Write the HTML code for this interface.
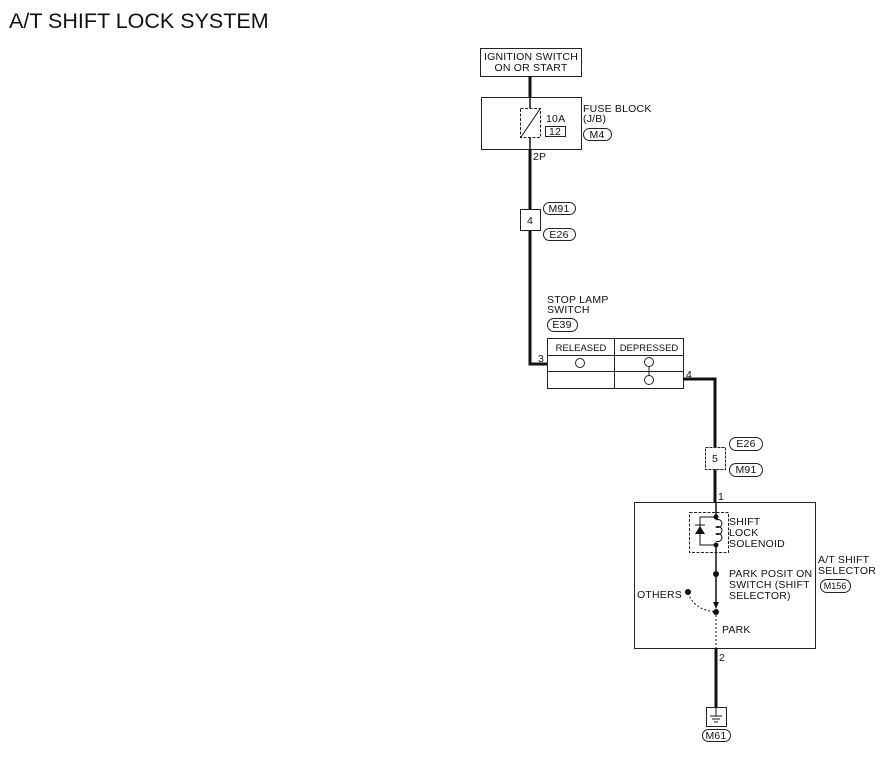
<!DOCTYPE html>
<html><head><style>
body{margin:0;background:#fff;}
svg{display:block;}
text{font-family:"Liberation Sans",sans-serif;fill:#111;}
</style></head><body>
<svg width="890" height="757" viewBox="0 0 890 757" xmlns="http://www.w3.org/2000/svg">
<text x="9" y="28" font-size="21.5">A/T SHIFT LOCK SYSTEM</text>
<g font-size="10.5" letter-spacing="0.2">
<rect x="480.5" y="48.5" width="101" height="28" fill="none" stroke="#222"/>
<text x="531" y="60" text-anchor="middle">IGNITION SWITCH</text>
<text x="531" y="71" text-anchor="middle">ON OR START</text>
<line x1="530" y1="76" x2="530" y2="97" stroke="#111" stroke-width="3"/>
<rect x="481.5" y="97.5" width="100" height="52" fill="none" stroke="#222"/>
<line x1="530" y1="97" x2="530" y2="108" stroke="#111" stroke-width="1.5"/>
<rect x="520.5" y="108.5" width="20" height="29" fill="none" stroke="#222" stroke-dasharray="3,1.5"/>
<line x1="521" y1="137" x2="540" y2="109" stroke="#111"/>
<line x1="530" y1="138" x2="530" y2="150" stroke="#111" stroke-width="1.5"/>
<text x="546" y="122">10A</text>
<rect x="545.5" y="126.5" width="20" height="10" fill="none" stroke="#222"/>
<text x="555" y="135" text-anchor="middle">12</text>
<text x="583" y="112">FUSE BLOCK</text>
<text x="583" y="122">(J/B)</text>
<rect x="583.5" y="128.5" width="28" height="12" rx="6" fill="none" stroke="#222"/>
<text x="597" y="138" text-anchor="middle">M4</text>
<text x="533" y="160">2P</text>
<polyline points="530,150 530,364 547,364" fill="none" stroke="#111" stroke-width="3"/>
<rect x="520.5" y="209.5" width="20" height="21" fill="#fff" stroke="#222"/>
<text x="530" y="224" text-anchor="middle">4</text>
<rect x="543.5" y="202.5" width="32" height="12" rx="6" fill="none" stroke="#222"/>
<text x="559" y="212" text-anchor="middle">M91</text>
<rect x="543.5" y="228.5" width="32" height="12" rx="6" fill="none" stroke="#222"/>
<text x="559" y="238" text-anchor="middle">E26</text>
<text x="547" y="303">STOP LAMP</text>
<text x="547" y="313">SWITCH</text>
<rect x="547.5" y="318.5" width="30" height="13" rx="6.5" fill="none" stroke="#222"/>
<text x="562" y="328" text-anchor="middle">E39</text>
<rect x="547.5" y="338.5" width="136" height="50" fill="none" stroke="#222"/>
<line x1="614.5" y1="338" x2="614.5" y2="388" stroke="#222"/>
<line x1="547" y1="355.5" x2="683" y2="355.5" stroke="#222"/>
<line x1="547" y1="371.5" x2="683" y2="371.5" stroke="#222"/>
<text x="581" y="351" text-anchor="middle" font-size="9.5" letter-spacing="0">RELEASED</text>
<text x="649" y="351" text-anchor="middle" font-size="9.5" letter-spacing="0">DEPRESSED</text>
<circle cx="580" cy="363" r="4.5" fill="none" stroke="#222"/>
<circle cx="649" cy="362" r="4.5" fill="none" stroke="#222"/>
<circle cx="649" cy="380" r="4.5" fill="none" stroke="#222"/>
<line x1="649" y1="366" x2="649" y2="376" stroke="#222"/>
<text x="538" y="362">3</text>
<text x="686" y="378">4</text>
<polyline points="683,379 715,379 715,502" fill="none" stroke="#111" stroke-width="3"/>
<rect x="705.5" y="447.5" width="20" height="22" fill="#fff" stroke="#222" stroke-dasharray="3,1"/>
<text x="715" y="462" text-anchor="middle">5</text>
<rect x="729.5" y="437.5" width="33" height="13" rx="6.5" fill="none" stroke="#222"/>
<text x="746" y="447" text-anchor="middle">E26</text>
<rect x="729.5" y="463.5" width="33" height="13" rx="6.5" fill="none" stroke="#222"/>
<text x="746" y="473" text-anchor="middle">M91</text>
<text x="718" y="500">1</text>
<rect x="634.5" y="502.5" width="181" height="146" fill="none" stroke="#222"/>
<rect x="689.5" y="512.5" width="39" height="40" fill="none" stroke="#222" stroke-dasharray="3,1.5"/>
<line x1="716" y1="502" x2="716" y2="517" stroke="#111" stroke-width="1.5"/>
<circle cx="716" cy="517" r="2.5" fill="#111"/>
<circle cx="716" cy="545" r="2.5" fill="#111"/>
<path d="M716,520 a4,4 0 1 1 0,7 a4,4 0 1 1 0,7 a4,4 0 1 1 0,7" fill="none" stroke="#111"/>
<polyline points="716,517 700,517 700,545 716,545" fill="none" stroke="#111"/>
<polygon points="695,534 705,534 700,526" fill="#111"/>
<line x1="695" y1="525" x2="705" y2="525" stroke="#111"/>
<text x="729" y="525">SHIFT</text>
<text x="729" y="536">LOCK</text>
<text x="729" y="547">SOLENOID</text>
<line x1="716" y1="545" x2="716" y2="604" stroke="#111" stroke-width="1.5"/>
<circle cx="716" cy="574" r="3" fill="#111"/>
<polygon points="713,602 719,602 716,609" fill="#111"/>
<text x="729" y="577">PARK POSIT ON</text>
<text x="729" y="588">SWITCH (SHIFT</text>
<text x="729" y="599">SELECTOR)</text>
<text x="637" y="598">OTHERS</text>
<circle cx="688" cy="592" r="3" fill="#111"/>
<path d="M688,593 Q694,610 716,612" fill="none" stroke="#111" stroke-dasharray="2,2"/>
<circle cx="716" cy="612" r="3" fill="#111"/>
<line x1="716" y1="615" x2="716" y2="648" stroke="#111" stroke-dasharray="2,2"/>
<text x="722" y="633">PARK</text>
<text x="818" y="563">A/T SHIFT</text>
<text x="818" y="574">SELECTOR</text>
<rect x="820.5" y="579.5" width="30" height="13" rx="6.5" fill="none" stroke="#222"/>
<text x="835" y="589" text-anchor="middle" font-size="9" letter-spacing="0">M156</text>
<text x="719" y="661">2</text>
<line x1="716" y1="648" x2="716" y2="707" stroke="#111" stroke-width="3"/>
<rect x="706.5" y="707.5" width="20" height="19" fill="#fff" stroke="#222"/>
<line x1="716" y1="707" x2="716" y2="716" stroke="#111"/>
<line x1="710" y1="716" x2="722" y2="716" stroke="#111"/>
<line x1="712" y1="719" x2="720" y2="719" stroke="#111"/>
<line x1="714" y1="722" x2="718" y2="722" stroke="#111"/>
<rect x="702.5" y="729.5" width="28" height="12" rx="6" fill="none" stroke="#222"/>
<text x="716" y="739" text-anchor="middle">M61</text>
</g>
</svg>
</body></html>
